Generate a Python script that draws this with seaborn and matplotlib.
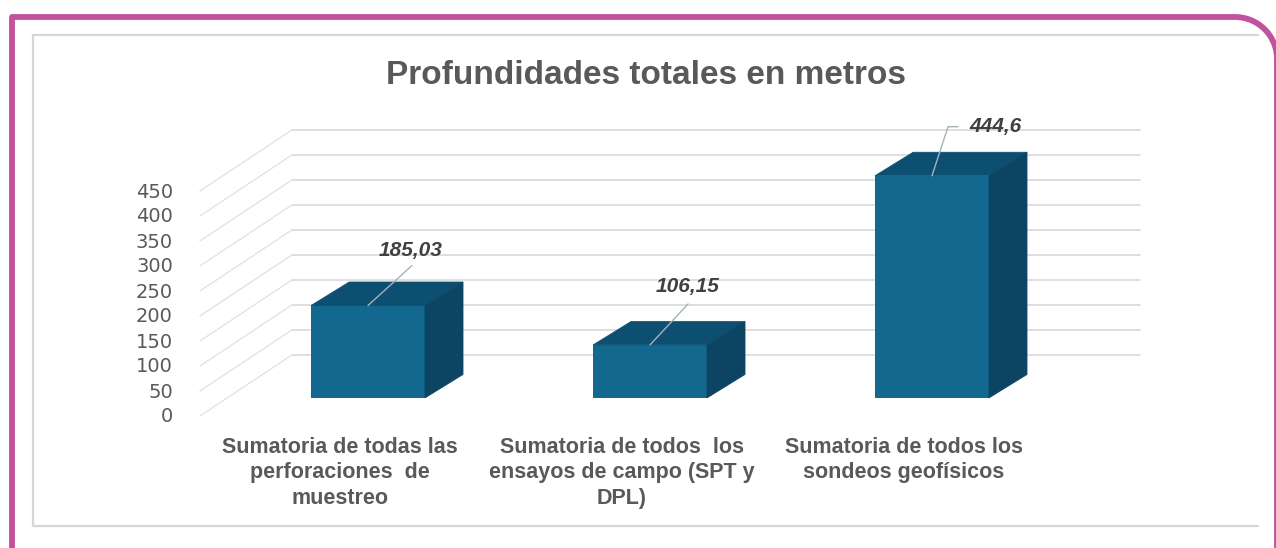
import numpy as np
import pandas as pd
import seaborn as sns
import matplotlib
matplotlib.use("Agg")
import matplotlib.pyplot as plt
from matplotlib.patches import Polygon
from matplotlib.lines import Line2D
from matplotlib import font_manager as fm

# ---------------- data ----------------
categories = [
    "Sumatoria de todas las\nperforaciones  de\nmuestreo",
    "Sumatoria de todos  los\nensayos de campo (SPT y\nDPL)",
    "Sumatoria de todos los\nsondeos geofísicos",
]
values = [185.03, 106.15, 444.6]
value_labels = ["185,03", "106,15", "444,6"]
yticks = [0, 50, 100, 150, 200, 250, 300, 350, 400, 450]
title = "Profundidades totales en metros"

# ---------------- style ----------------
sns.set_theme(style="white")
names = {f.name for f in fm.fontManager.ttflist}
base = "Liberation Sans" if "Liberation Sans" in names else "DejaVu Sans"
plt.rcParams["font.family"] = [base, "DejaVu Sans"]

FRONT = "#136890"
TOP = "#0d4f71"
SIDE = "#0b4563"
GRID = "#d9d9d9"
TXT = "#595959"
LBL = "#404040"
PINK = "#c2519e"

W, H = 1276, 548
fig = plt.figure(figsize=(W / 100, H / 100), dpi=100)
fig.patch.set_facecolor("white")

def fx(px):
    return px / W

def fy(py):
    return 1 - py / H

# pink frame with rounded top-right corner
R = 42
cx, cy = 1277 - R, 17 + R
ang = np.linspace(np.pi / 2, 0, 30)
arc_x = cx + R * np.cos(ang)
arc_y = cy - R * np.sin(ang)
px = np.concatenate([[12, 12], arc_x, [1277]])
py = np.concatenate([[560, 17], arc_y, [560]])
fig.add_artist(Line2D(fx(px), fy(py), color=PINK, lw=4.2, solid_capstyle="butt",
                      transform=fig.transFigure))

# inner chart box (top, left, bottom edges)
fig.add_artist(Line2D(fx(np.array([1258, 33, 33, 1258])), fy(np.array([35, 35, 526, 526])),
                      color="#d6d6d6", lw=1.6, transform=fig.transFigure))

# main axes mapped so that x=i -> pixel 368+282 i, y=v -> pixel 398-0.5 v
ax = fig.add_axes([0, 0, 1, 1])
ax.set_facecolor("none")
df = pd.DataFrame({"cat": categories, "val": values})
sns.barplot(data=df, x="cat", y="val", color=FRONT, saturation=1, width=0.404,
            ax=ax, zorder=3, linewidth=0)
ax.set_xlim(-368 / 282, (W - 368) / 282)
ax.set_ylim((398 - H) / 0.5, 398 / 0.5)
ax.axis("off")

# pseudo-3D geometry (in data units)
DX, DY = 0.135, 47          # bar depth
WALL_X0, WALL_X1, WALL_DY = -0.270, 2.738, 86   # back wall
SIDE_X0, FRONT_DY = -0.596, -36                 # side wall front edge

for v in yticks:
    ax.plot([WALL_X0, WALL_X1], [v + WALL_DY, v + WALL_DY], color=GRID, lw=1.2, zorder=1)
    ax.plot([SIDE_X0, WALL_X0], [v + FRONT_DY, v + WALL_DY], color="#e3e3e3", lw=1.0, zorder=1)
    ax.text(-0.6915, v - 38, f"{v}", ha="right", va="center", fontsize=14,
            color=TXT, family=["DejaVu Sans"])

for p in list(ax.patches):
    x0, w, h = p.get_x(), p.get_width(), p.get_height()
    ax.add_patch(Polygon([(x0, h), (x0 + w, h), (x0 + w + DX, h + DY), (x0 + DX, h + DY)],
                         closed=True, facecolor=TOP, edgecolor=TOP, lw=0.5, zorder=3))
    ax.add_patch(Polygon([(x0 + w, 0), (x0 + w + DX, DY), (x0 + w + DX, h + DY), (x0 + w, h)],
                         closed=True, facecolor=SIDE, edgecolor=SIDE, lw=0.5, zorder=3))

# data labels with leader lines (label offsets relative to bar top-centre)
label_pos = [(0.152, 110, "center"), (0.135, 116, "center"), (0.131, 98, "left")]
leaders = [[(0, 0), (0.156, 80)], [(0, 0), (0.135, 82)], [(0, 0), (0.057, 98), (0.092, 98)]]
for i, (val, txt) in enumerate(zip(values, value_labels)):
    dxl, dyl, ha = label_pos[i]
    ax.text(i + dxl, val + dyl, txt, ha=ha, va="center", fontsize=15, fontweight="bold",
            fontstyle="italic", color=LBL, zorder=6)
    pts = np.array(leaders[i])
    ax.plot(i + pts[:, 0], val + pts[:, 1], color="#a3b3bc", lw=1.0, zorder=5)

# category labels at the front edge of the floor
for i, c in enumerate(categories):
    ax.text(i - 0.099, -78, c, ha="center", va="top", fontsize=15.5, fontweight="bold",
            color=TXT, linespacing=1.28)

fig.text(fx(646), fy(75), title, ha="center", va="center", fontsize=24,
         fontweight="bold", color=TXT)

fig.savefig("out.png", dpi=100, facecolor="white")
